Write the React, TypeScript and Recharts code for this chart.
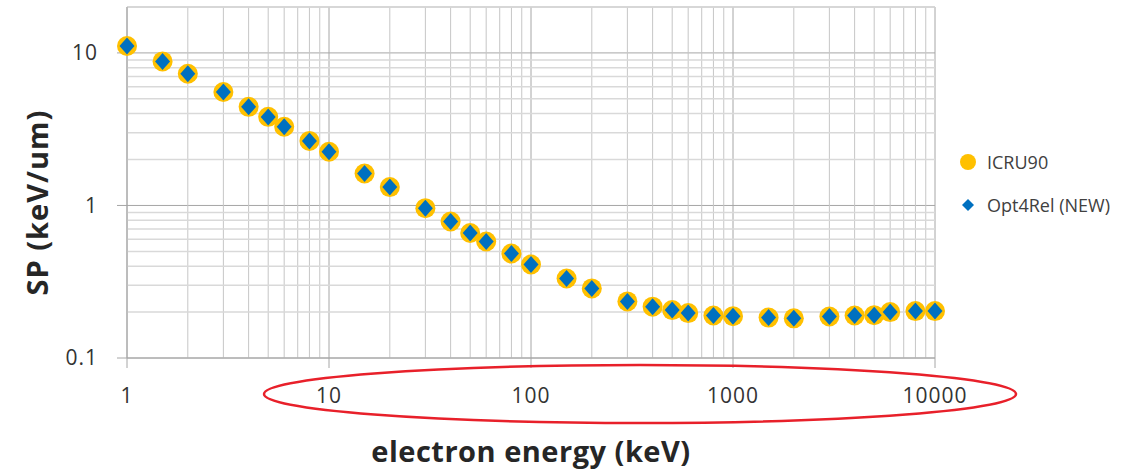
import React from "react";
import {
  ScatterChart,
  Scatter,
  XAxis,
  YAxis,
  CartesianGrid,
  ReferenceLine,
  Legend,
  Label
} from "recharts";

// electron energy (keV)
const energies = [
  1, 1.5, 2, 3, 4, 5, 6, 8, 10, 15, 20, 30, 40, 50, 60, 80, 100, 150, 200,
  300, 400, 500, 600, 800, 1000, 1500, 2000, 3000, 4000, 5000, 6000, 8000, 10000
];

// stopping power (keV/um)
const icru90 = [
  11.1, 8.8, 7.3, 5.54, 4.43, 3.81, 3.28, 2.65, 2.25, 1.62, 1.32, 0.96, 0.785,
  0.66, 0.58, 0.484, 0.41, 0.332, 0.286, 0.235, 0.217, 0.206, 0.197, 0.19,
  0.188, 0.184, 0.182, 0.187, 0.19, 0.191, 0.2, 0.203, 0.203
];
const opt4rel = [
  11.1, 8.8, 7.3, 5.54, 4.43, 3.8, 3.28, 2.65, 2.25, 1.62, 1.32, 0.96, 0.785,
  0.66, 0.58, 0.484, 0.41, 0.332, 0.286, 0.235, 0.217, 0.206, 0.197, 0.19,
  0.188, 0.184, 0.182, 0.187, 0.19, 0.191, 0.2, 0.203, 0.203
];

const xTicks = [1, 10, 100, 1000, 10000];
const yTicks = [0.1, 1, 10];

// minor log gridlines (2..9 in each decade)
const steps = [2, 3, 4, 5, 6, 7, 8, 9];
const xMinor = [1, 10, 100, 1000].flatMap((d) => steps.map((s) => s * d));
const yMinor = [...[0.1, 1].flatMap((d) => steps.map((s) => s * d)), 20];

const icruData = energies.map((x, i) => ({ x, y: icru90[i] }));
const optData = energies.map((x, i) => ({ x, y: opt4rel[i] }));

const ORANGE = "#FFC000";
const BLUE = "#0070C0";
const font = "'Open Sans', sans-serif";

const Circle = (p: any) => <circle cx={p.cx} cy={p.cy} r={10} fill={ORANGE} />;
const Diamond = (p: any) => (
  <path
    d={`M${p.cx},${p.cy - 8.5} L${p.cx + 7.5},${p.cy} L${p.cx},${p.cy + 8.5} L${p.cx - 7.5},${p.cy} Z`}
    fill={BLUE}
  />
);

function LegendBox({ payload }: any) {
  return (
    <div style={{ fontFamily: font, fontSize: 18, color: "#404040" }}>
      {(payload || []).map((p: any) => (
        <div
          key={p.value}
          style={{ display: "flex", alignItems: "center", height: 43 }}
        >
          <svg width={20} height={20} style={{ marginRight: 9 }}>
            {p.type === "circle" ? (
              <circle cx={10} cy={10} r={8} fill={ORANGE} />
            ) : (
              <path d="M10,4 L16,10 L10,16 L4,10 Z" fill={BLUE} />
            )}
          </svg>
          <span>{p.value}</span>
        </div>
      ))}
    </div>
  );
}

export default function App() {
  const tick = { fill: "#333333", fontSize: 21, fontFamily: font, letterSpacing: 1 };
  return (
    <div
      style={{
        position: "absolute",
        left: 0,
        top: 0,
        width: 1141,
        height: 475,
        background: "#fff"
      }}
    >
      <ScatterChart
        width={1141}
        height={475}
        margin={{ top: 7, right: 206, bottom: 67, left: 0 }}
      >
        <CartesianGrid stroke="#a6a6a6" strokeWidth={1} />
        {xMinor.map((v) => (
          <ReferenceLine key={"x" + v} x={v} stroke="#c6c6c6" strokeWidth={1} />
        ))}
        {yMinor.map((v) => (
          <ReferenceLine key={"y" + v} y={v} stroke="#d9d9d9" strokeWidth={1.5} />
        ))}
        <XAxis
          dataKey="x"
          type="number"
          scale="log"
          domain={[1, 10000]}
          ticks={xTicks}
          interval={0}
          height={50}
          tickSize={10}
          tickMargin={20}
          tick={tick}
          tickLine={{ stroke: "#a6a6a6" }}
          axisLine={{ stroke: "#a6a6a6" }}
        >
          <Label
            value="electron energy (keV)"
            position="bottom"
            offset={33}
            style={{
              fontFamily: font,
              fontSize: 29,
              fontWeight: 700,
              fill: "#262626",
              letterSpacing: 0.5
            }}
          />
        </XAxis>
        <YAxis
          dataKey="y"
          type="number"
          scale="log"
          domain={[0.1, 20]}
          ticks={yTicks}
          interval={0}
          width={127}
          tickSize={10}
          tickMargin={19}
          tick={tick}
          tickLine={{ stroke: "#a6a6a6" }}
          axisLine={{ stroke: "#a6a6a6" }}
        >
          <Label
            content={({ viewBox }: any) => {
              const cx = viewBox.x + 36;
              const cy = viewBox.y + viewBox.height / 2 + 20;
              return (
                <text
                  x={cx}
                  y={cy}
                  transform={`rotate(-90, ${cx}, ${cy})`}
                  textAnchor="middle"
                  dominantBaseline="central"
                  fontFamily={font}
                  fontSize={29}
                  fontWeight={700}
                  fill="#262626"
                  letterSpacing={1}
                >
                  SP (keV/um)
                </text>
              );
            }}
          />
        </YAxis>
        <Legend
          layout="vertical"
          align="center"
          verticalAlign="middle"
          wrapperStyle={{ position: "absolute", left: 958, top: 140, width: 183 }}
          content={<LegendBox />}
        />
        <Scatter
          name="ICRU90"
          data={icruData}
          legendType="circle"
          shape={Circle}
          isAnimationActive={false}
        />
        <Scatter
          name="Opt4Rel (NEW)"
          data={optData}
          legendType="diamond"
          shape={Diamond}
          isAnimationActive={false}
        />
      </ScatterChart>
      <svg
        width={1141}
        height={475}
        style={{ position: "absolute", left: 0, top: 0, pointerEvents: "none" }}
      >
        <ellipse cx={640} cy={394} rx={376} ry={29} fill="none" stroke="#E8202A" strokeWidth={2.5} />
      </svg>
    </div>
  );
}
